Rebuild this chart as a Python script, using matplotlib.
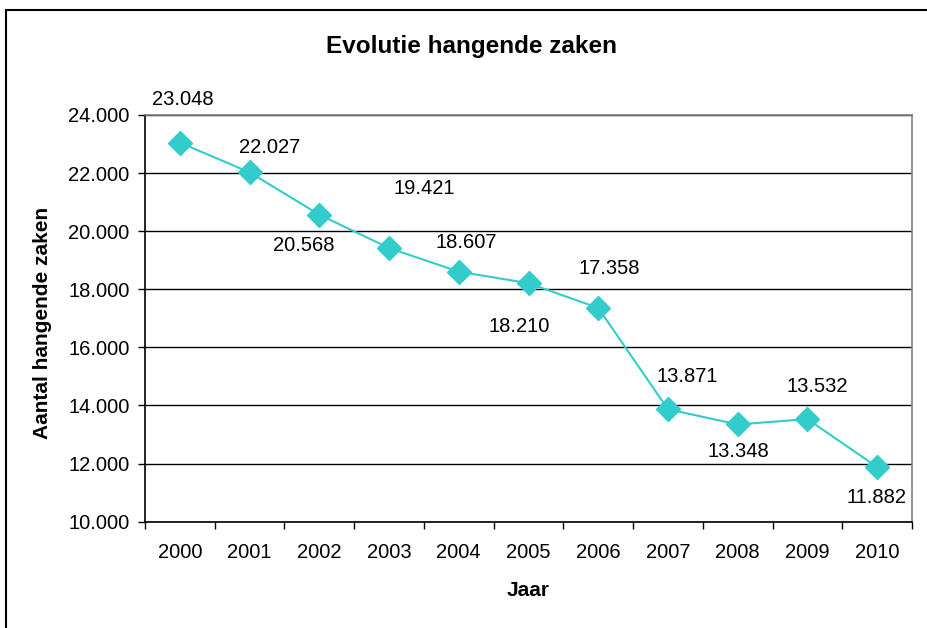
import matplotlib
matplotlib.use("Agg")
import matplotlib.pyplot as plt
from matplotlib.patches import Rectangle
from matplotlib.ticker import FuncFormatter, MultipleLocator

plt.rcParams['font.family'] = ['Liberation Sans', 'DejaVu Sans']

years = ['2000', '2001', '2002', '2003', '2004', '2005', '2006', '2007', '2008', '2009', '2010']
values = [23048, 22027, 20568, 19421, 18607, 18210, 17358, 13871, 13348, 13532, 11882]
labels = ['23.048', '22.027', '20.568', '19.421', '18.607', '18.210', '17.358', '13.871', '13.348', '13.532', '11.882']
# label offsets in pixels (styling)
offsets = [(3, 43), (20, 25), (-16, -31), (35, 60), (7, 29), (-9, -43), (11, 39), (19, 33), (1, -27), (10, 33), (-1, -30)]

W, H = 927, 628
fig = plt.figure(figsize=(W / 100, H / 100), dpi=100)
left, right, top, bottom = 145, 912, 115, 521.7
ax = fig.add_axes([left / W, 1 - bottom / H, (right - left) / W, (bottom - top) / H])

x = list(range(len(years)))
color = '#33CCCC'
ax.plot(x, values, color=color, lw=1.5, marker='D', markersize=12.5, markeredgecolor=color,
        markeredgewidth=1, zorder=3, clip_on=False)

ax.set_xlim(-0.5, len(years) - 0.5)
ax.set_ylim(10000, 24000)
ax.yaxis.set_major_locator(MultipleLocator(2000))
ax.yaxis.set_major_formatter(FuncFormatter(lambda v, p: f"{int(v):,}".replace(',', '.')))
ax.set_xticks(x)
ax.set_xticklabels(years)
ax.set_xticks([i - 0.5 for i in range(len(years) + 1)], minor=True)
ax.tick_params(axis='x', which='major', length=0, pad=15, labelsize=14.5)
ax.tick_params(axis='x', which='minor', length=5, width=1, color='black', direction='out')
ax.tick_params(axis='y', length=5, width=1, direction='out', labelsize=14.5, pad=6)
ax.grid(axis='y', color='black', lw=1)
ax.set_axisbelow(True)
for s in ['top', 'right']:
    ax.spines[s].set_color('#808080')
    ax.spines[s].set_linewidth(1.2)
for s in ['left', 'bottom']:
    ax.spines[s].set_color('black')
    ax.spines[s].set_linewidth(1.2)

for xi, v, lab, off in zip(x, values, labels, offsets):
    ax.annotate(lab, (xi, v), xytext=(off[0] * 0.72, off[1] * 0.72), textcoords='offset points',
                ha='center', va='center', fontsize=14.5, annotation_clip=False)

fig.text(472 / W, 1 - 46 / H, 'Evolutie hangende zaken', ha='center', va='center', fontsize=17.5, fontweight='bold')
fig.text(528 / W, 1 - 590 / H, 'Jaar', ha='center', va='center', fontsize=15, fontweight='bold')
fig.text(43 / W, 1 - 323 / H, 'Aantal hangende zaken', ha='center', va='center', rotation=90, fontsize=15, fontweight='bold')

fig.patches.append(Rectangle((6 / W, -0.1), 1.2, (H - 10) / H + 0.1, transform=fig.transFigure,
                             fill=False, edgecolor='black', lw=1.5))

fig.savefig('out.png', dpi=100)
